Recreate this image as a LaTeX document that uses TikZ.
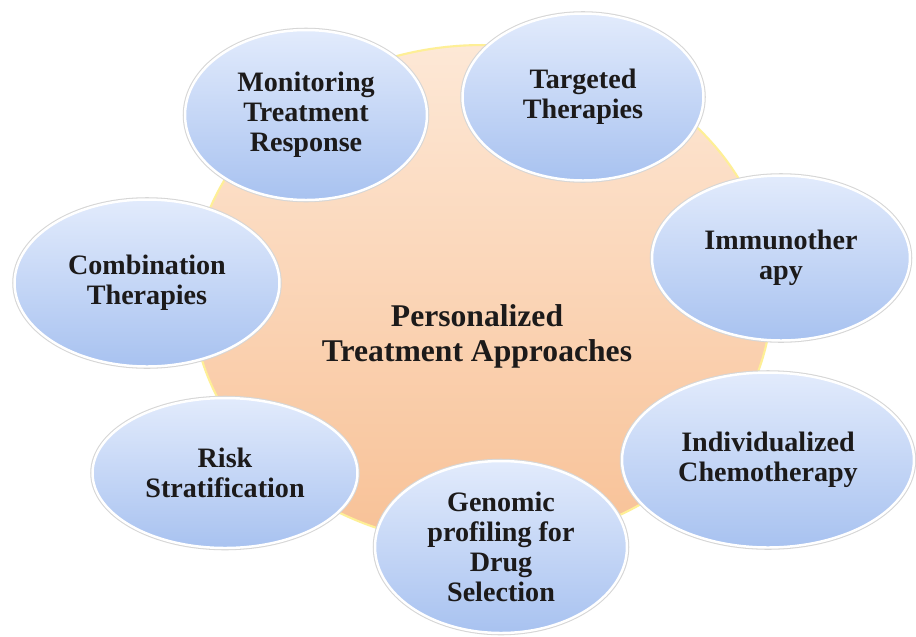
\documentclass[tikz,border=0pt]{standalone}
\usepackage{fontspec}
\setmainfont{Liberation Serif}
\usepackage{xcolor}
\usepackage{tikz}
\usetikzlibrary{shapes.geometric}

\definecolor{hubtop}{HTML}{FDE8D6}
\definecolor{hubbot}{HTML}{F8C196}
\definecolor{satop}{HTML}{E2EBFC}
\definecolor{satmid}{HTML}{C6D7F6}
\definecolor{satbot}{HTML}{A8C2F0}
\definecolor{inktext}{HTML}{1C1A1A}

\tikzset{
  hubshape/.style={ellipse, draw=hubtop!70!yellow, line width=1.2pt, top color=hubtop, bottom color=hubbot, inner sep=0pt},
  approach/.style={ellipse, inner sep=0pt, align=center, text=inktext,
    font=\fontsize{16}{17}\selectfont\bfseries,
    top color=satop, middle color=satmid, bottom color=satbot,
    preaction={draw=black!16, line width=2.6pt},
    draw=white, line width=1.4pt},
  hubtitle/.style={align=center, text=inktext, font=\fontsize{18}{20}\selectfont\bfseries},
}

\begin{document}
\begin{tikzpicture}[x=0.02cm, y=-0.02cm]
  \useasboundingbox (0,0) rectangle (916,636);
  \fill[white] (0,0) rectangle (916,636);

  % central body
  \node[hubshape, minimum width=11.6cm, minimum height=10cm] (hub) at (482,295) {};
  \node[hubtitle] (title) at (477,336) {Personalized\\Treatment Approaches};

  % approaches around the centre
  \node[approach, minimum width=4.84cm, minimum height=3.4cm] (monitor) at (306,115) {Monitoring\\Treatment\\Response};
  \node[approach, minimum width=4.82cm, minimum height=3.34cm] (targeted) at (583,97) {Targeted\\Therapies};
  \node[approach, minimum width=5.16cm, minimum height=3.3cm] (immuno) at (781,258) {Immunother\\apy};
  \node[approach, minimum width=5.84cm, minimum height=3.5cm] (chemo) at (768,460) {Individualized\\Chemotherapy};
  \node[approach, minimum width=5.04cm, minimum height=3.44cm] (genomic) at (501,547) {Genomic\\profiling for\\Drug\\Selection};
  \node[approach, minimum width=5.3cm, minimum height=3cm] (risk) at (225,473) {Risk\\Stratification};
  \node[approach, minimum width=5.3cm, minimum height=3.34cm] (combo) at (147,283) {Combination\\Therapies};
\end{tikzpicture}
\end{document}
